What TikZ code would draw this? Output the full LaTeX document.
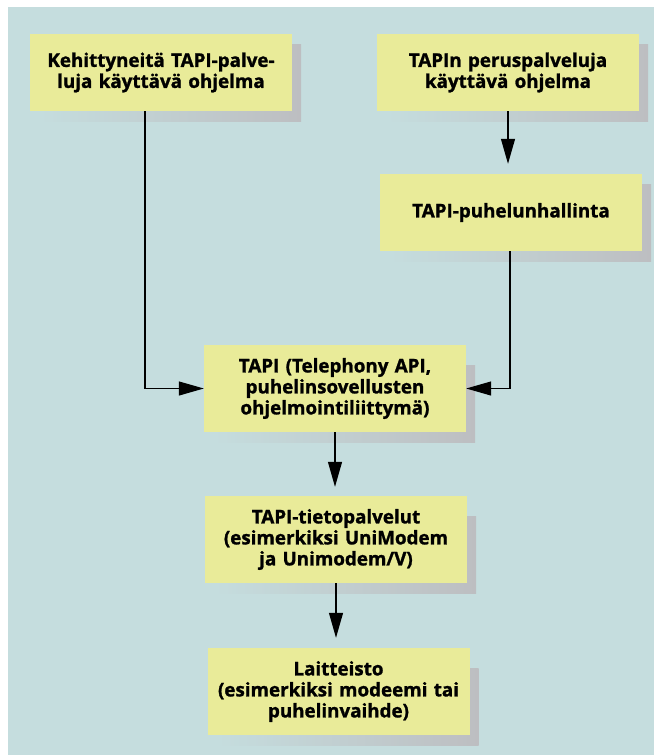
\documentclass[tikz,border=0pt]{standalone}
\usepackage{fontspec}
\setmainfont{Open Sans}[BoldFeatures={FakeBold=1.3}]
\usetikzlibrary{arrows.meta,calc,backgrounds}
\definecolor{bgblue}{RGB}{197,221,222}
\definecolor{boxyellow}{RGB}{233,235,153}
\definecolor{shadowgray}{RGB}{189,190,193}

\begin{document}
\begin{tikzpicture}[x=1pt, y=-1pt,
  box/.style={fill=boxyellow, minimum width=262pt, minimum height=77pt,
    text width=258pt, align=center, inner sep=0pt,
    font=\bfseries\fontsize{18.8}{21}\selectfont},
  tall/.style={minimum height=87pt},
  link/.style={line width=1.2pt, -{Triangle[length=25pt,width=14pt]}}]
\useasboundingbox (0,0) rectangle (654,755);

% Program boxes
\node[box] (kehit) at (161,72.5) {Kehittyneitä TAPI-palve-\\luja käyttävä ohjelma};
\node[box] (perus) at (508,72.5) {TAPIn peruspalveluja\\käyttävä ohjelma};
\node[box] (hallinta) at (511,212.5) {TAPI-puhelunhallinta};

% TAPI and below
\node[box, tall] (tapi) at (335,388.5) {TAPI (Telephony API,\\puhelinsovellusten\\ohjelmointiliittymä)};
\node[box, tall] (tieto) at (336,539.5) {TAPI-tietopalvelut\\(esimerkiksi UniModem\\ja Unimodem/V)};
\node[box, tall] (laite) at (338.5,691.5) {Laitteisto\\(esimerkiksi modeemi tai\\puhelinvaihde)};

% Background and shadows
\begin{scope}[on background layer]
\fill[bgblue] (8,7) rectangle (654,755);
\foreach \n in {kehit,perus,hallinta,tapi,tieto,laite} {
    \shade[left color=bgblue, right color=shadowgray]
        ($(\n.south west)+(10,-67)$) rectangle ($(\n.south east)+(9,10)$);
}
\end{scope}

% Connectors
\draw[link] ([xshift=-16pt]kehit.south) |- (tapi.west);
\draw[link] ([xshift=-1pt]hallinta.south) |- (tapi.east);
\draw[link, shorten >=10pt] (perus.south) -- (perus.south |- hallinta.north);
\draw[link, shorten >=9pt] (tapi.south) -- (tapi.south |- tieto.north);
\draw[link, shorten >=10pt] (tieto.south) -- (tieto.south |- laite.north);
\end{tikzpicture}
\end{document}
